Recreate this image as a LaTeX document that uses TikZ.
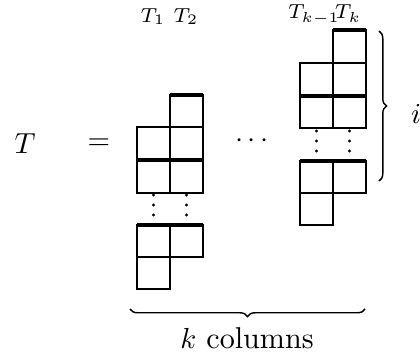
\documentclass[tikz,border=0pt]{standalone}
\usetikzlibrary{decorations.pathreplacing}
\begin{document}
\begin{tikzpicture}[x=0.3452pt,y=-0.3452pt,
  cellline/.style={line width=0.85pt},
  heavyline/.style={line width=1.25pt},
  vdot/.style={fill=black},
  collabel/.style={font=\scriptsize,anchor=base,inner sep=0pt},
  bracestyle/.style={decorate,decoration={brace,amplitude=2.6pt},line width=0.5pt}]
\useasboundingbox (0,0) rectangle (420,353);
% left-hand side
\node[font=\fontsize{10.4}{12}\selectfont] (lhs) at (25,144) {$T$};
\node[font=\fontsize{10.4}{12}\selectfont] (eq) at (99,144) {$=$};
\node[font=\fontsize{10.4}{12}\selectfont] (mid) at (252,141) {$\cdots$};
% first group of columns
\draw[cellline] (170,95) rectangle (203,193);
\draw[cellline] (170,127) -- (203,127);
\draw[cellline] (137,127) rectangle (170,193);
\draw[cellline] (137,225) rectangle (203,257);
\draw[cellline] (170,225) -- (170,257);
\draw[cellline] (137,257) rectangle (170,289);
\draw[heavyline] (170,95) -- (203,95);
\draw[heavyline] (137,160) -- (203,160);
\draw[heavyline] (137,225) -- (203,225);
\foreach \yy in {195,205,215}{
  \fill[vdot] (153.5,\yy) circle (0.55pt);
  \fill[vdot] (186.5,\yy) circle (0.55pt);
}
% second group of columns
\draw[cellline] (333,30) rectangle (366,128);
\draw[cellline] (333,63) -- (366,63);
\draw[cellline] (300,63) rectangle (333,128);
\draw[cellline] (300,161) rectangle (366,193);
\draw[cellline] (333,161) -- (333,193);
\draw[cellline] (300,193) rectangle (333,225);
\draw[heavyline] (333,30) -- (366,30);
\draw[heavyline] (300,96) -- (366,96);
\draw[heavyline] (300,161) -- (366,161);
\foreach \yy in {131,141,151}{
  \fill[vdot] (316.5,\yy) circle (0.55pt);
  \fill[vdot] (349.5,\yy) circle (0.55pt);
}
% column labels
\node[collabel] (t1) at (153,22) {$T_1$};
\node[collabel] (t2) at (186,22) {$T_2$};
\node[collabel] (tk1) at (314,19) {$T_{k-1}$};
\node[collabel] (tk) at (348,19) {$T_k$};
% braces
\coordinate (rb1) at (379,31);
\coordinate (rb2) at (379,181);
\draw[bracestyle] (rb1) -- (rb2);
\node[font=\fontsize{10.4}{12}\selectfont] (ilab) at (416,114) {$i$};
\coordinate (bb1) at (365,309);
\coordinate (bb2) at (130,309);
\draw[bracestyle] (bb1) -- (bb2);
\node[font=\fontsize{10.4}{12}\selectfont] (kcol) at (247,338) {$k$ columns};
\end{tikzpicture}
\end{document}
